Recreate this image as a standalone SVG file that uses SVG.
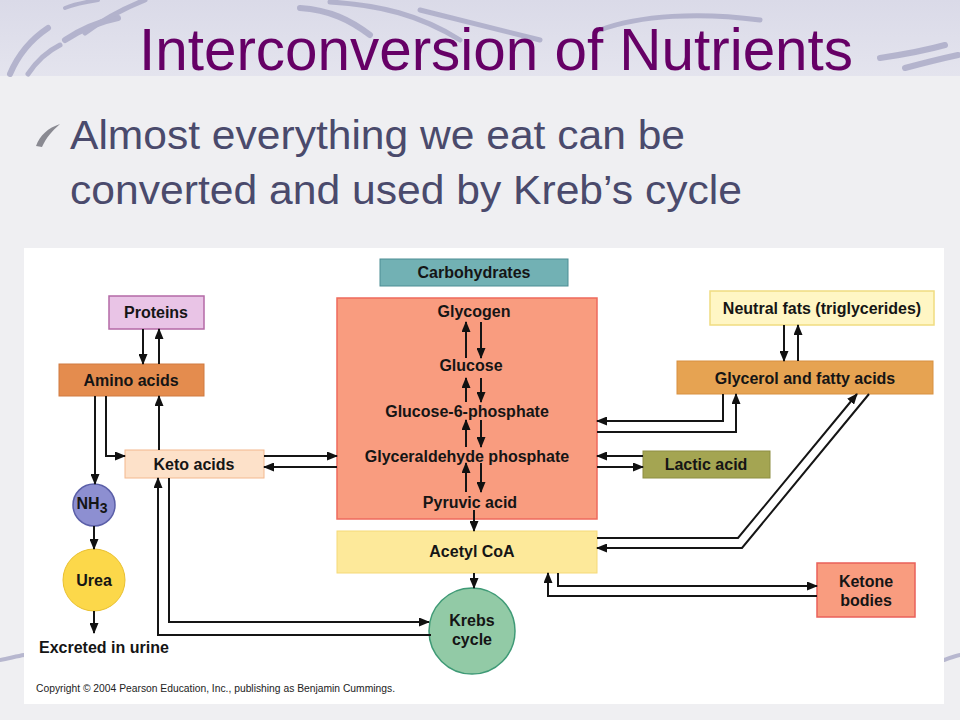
<svg xmlns="http://www.w3.org/2000/svg" width="960" height="720" viewBox="0 0 960 720">
<defs>
<linearGradient id="band" x1="0" y1="0" x2="0" y2="1">
<stop offset="0" stop-color="#dadae8"/>
<stop offset="1" stop-color="#e4e4ee"/>
</linearGradient>
<marker id="ah" markerUnits="userSpaceOnUse" markerWidth="11" markerHeight="9" refX="10" refY="4.5" orient="auto">
<path d="M0,0 L11,4.5 L0,9 z" fill="#111"/>
</marker>
<style>
.lbl{font-family:"Liberation Sans",Arial,sans-serif;font-weight:bold;font-size:16px;fill:#151515;text-anchor:middle}
.arr{fill:none;stroke:#151515;stroke-width:2;marker-end:url(#ah)}
.sw{fill:none;stroke:#a9a9c6;stroke-linecap:round}
</style>
</defs>
<rect x="0" y="0" width="960" height="720" fill="#efeff2"/>
<rect x="0" y="0" width="960" height="76" fill="url(#band)"/>
<g id="decor" opacity="0.8">
<path class="sw" stroke-width="6" d="M10,74 C18,55 30,40 48,28"/>
<path class="sw" stroke-width="5" d="M28,74 C36,62 46,52 60,45"/>
<path class="sw" stroke-width="6" d="M65,40 C80,30 98,22 118,18"/>
<path class="sw" stroke-width="5" d="M85,33 C105,18 125,8 145,0"/>
<path class="sw" stroke-width="4" d="M65,8 C75,4 85,2 98,0"/>
<path class="sw" stroke-width="6" d="M300,8 C330,10 350,20 370,35"/>
<path class="sw" stroke-width="5" d="M330,2 C380,5 420,15 460,40"/>
<path class="sw" stroke-width="5" d="M420,10 C460,20 500,30 540,40"/>
<path class="sw" stroke-width="5" d="M600,30 C640,15 700,12 760,20"/>
<path class="sw" stroke-width="6" d="M880,58 C900,55 920,52 945,45"/>
<path class="sw" stroke-width="6" d="M905,68 C920,64 935,60 958,55"/>
<path class="sw" stroke-width="4" d="M0,660 C10,658 18,656 24,655"/>
<path class="sw" stroke-width="4" d="M944,660 C950,658 955,656 960,655"/>
</g>
<text x="496" y="70" font-family="Liberation Sans, Arial, sans-serif" font-size="60" fill="#660066" text-anchor="middle" textLength="714" lengthAdjust="spacingAndGlyphs">Interconversion of Nutrients</text>
<path d="M36,146 C40,135 48,128 60,124 C52,131 46,138 42,147 Z" fill="#8a8a92"/>
<text x="70" y="149" font-family="Liberation Sans, Arial, sans-serif" font-size="40" fill="#4a4a6c" textLength="615" lengthAdjust="spacingAndGlyphs">Almost everything we eat can be</text>
<text x="70" y="204" font-family="Liberation Sans, Arial, sans-serif" font-size="40" fill="#4a4a6c" textLength="672" lengthAdjust="spacingAndGlyphs">converted and used by Kreb’s cycle</text>
<rect x="24" y="248" width="920" height="456" fill="#ffffff"/>

<g id="carbohydrates">
<rect x="380" y="259" width="188" height="27" fill="#72b1b4" stroke="#4d8d94" stroke-width="1"/>
<text class="lbl" x="474" y="278">Carbohydrates</text>
</g>
<g id="carb-pathway">
<rect x="337" y="298" width="260" height="221" fill="#f99c7f" stroke="#ee6a5c" stroke-width="1.5"/>
<text class="lbl" x="474" y="317">Glycogen</text>
<text class="lbl" x="471" y="371">Glucose</text>
<text class="lbl" x="467" y="417">Glucose-6-phosphate</text>
<text class="lbl" x="467" y="462">Glyceraldehyde phosphate</text>
<text class="lbl" x="470" y="508">Pyruvic acid</text>
</g>
<g id="acetyl-coa">
<rect x="337" y="531" width="260" height="42" fill="#fde99a" stroke="#f5d978" stroke-width="1"/>
<text class="lbl" x="472" y="557">Acetyl CoA</text>
</g>
<g id="krebs">
<circle cx="472" cy="631" r="43" fill="#92caa6" stroke="#3f9a76" stroke-width="1.5"/>
<text class="lbl" x="472" y="626">Krebs</text>
<text class="lbl" x="472" y="645">cycle</text>
</g>
<g id="proteins">
<rect x="109" y="296" width="95" height="33" fill="#e9c4e6" stroke="#b46aa6" stroke-width="1.5"/>
<text class="lbl" x="156" y="318">Proteins</text>
</g>
<g id="amino-acids">
<rect x="59" y="364" width="145" height="32" fill="#e48c4e" stroke="#d07a40" stroke-width="1"/>
<text class="lbl" x="131" y="386">Amino acids</text>
</g>
<g id="keto-acids">
<rect x="125" y="450" width="139" height="28" fill="#fde1c9" stroke="#f3b88e" stroke-width="1"/>
<text class="lbl" x="194" y="470">Keto acids</text>
</g>
<g id="nh3">
<circle cx="94" cy="505" r="21" fill="#8d8fd1" stroke="#5b5fa8" stroke-width="1.5"/>
<text class="lbl" x="92" y="509">NH<tspan font-size="14" dy="4">3</tspan></text>
</g>
<g id="urea">
<circle cx="94" cy="580" r="31" fill="#fcd84a" stroke="#e9c030" stroke-width="1"/>
<text class="lbl" x="94" y="586">Urea</text>
</g>
<g id="excreted">
<text class="lbl" x="39" y="653" style="text-anchor:start">Excreted in urine</text>
</g>
<g id="neutral-fats">
<rect x="710" y="291" width="224" height="34" fill="#fff6c4" stroke="#f0dc80" stroke-width="1.5"/>
<text class="lbl" x="822" y="314">Neutral fats (triglycerides)</text>
</g>
<g id="glycerol">
<rect x="677" y="361" width="256" height="33" fill="#e6a352" stroke="#d89040" stroke-width="1"/>
<text class="lbl" x="805" y="384">Glycerol and fatty acids</text>
</g>
<g id="lactic-acid">
<rect x="643" y="451" width="127" height="27" fill="#a4a552" stroke="#8d8e42" stroke-width="1"/>
<text class="lbl" x="706" y="470">Lactic acid</text>
</g>
<g id="ketone-bodies">
<rect x="817" y="563" width="98" height="54" fill="#f99c7f" stroke="#e9605a" stroke-width="1.5"/>
<text class="lbl" x="866" y="587">Ketone</text>
<text class="lbl" x="866" y="606">bodies</text>
</g>

<g id="connectors">
<path class="arr" d="M143,329 V364"/>
<path class="arr" d="M159,364 V329"/>
<path class="arr" d="M106,396 V456 H125"/>
<path class="arr" d="M159,450 V396"/>
<path class="arr" d="M95,396 V484"/>
<path class="arr" d="M94,526 V549"/>
<path class="arr" d="M94,611 V633"/>
<path class="arr" d="M264,456 H337"/>
<path class="arr" d="M337,467 H264"/>
<path class="arr" d="M169,478 V622 H429"/>
<path class="arr" d="M431,635 H158 V478"/>
<path class="arr" d="M466,358 V322"/>
<path class="arr" d="M481,322 V358"/>
<path class="arr" d="M466,402 V378"/>
<path class="arr" d="M481,378 V402"/>
<path class="arr" d="M466,447 V420"/>
<path class="arr" d="M481,420 V447"/>
<path class="arr" d="M466,492 V463"/>
<path class="arr" d="M481,463 V492"/>
<path class="arr" d="M474,510 V531"/>
<path class="arr" d="M474,573 V588"/>
<path class="arr" d="M723,394 V421 H597"/>
<path class="arr" d="M597,432 H736 V394"/>
<path class="arr" d="M784,325 V361"/>
<path class="arr" d="M798,361 V325"/>
<path class="arr" d="M643,456 H597"/>
<path class="arr" d="M597,467 H643"/>
<path class="arr" d="M597,538 H738 L857,394"/>
<path class="arr" d="M869,394 L742,548 H597"/>
<path class="arr" d="M558,573 V586 H817"/>
<path class="arr" d="M817,596 H548 V573"/>
</g>
<text x="36" y="692" font-family="Liberation Sans, Arial, sans-serif" font-size="10" fill="#222" textLength="359" lengthAdjust="spacingAndGlyphs">Copyright © 2004 Pearson Education, Inc., publishing as Benjamin Cummings.</text>
</svg>
